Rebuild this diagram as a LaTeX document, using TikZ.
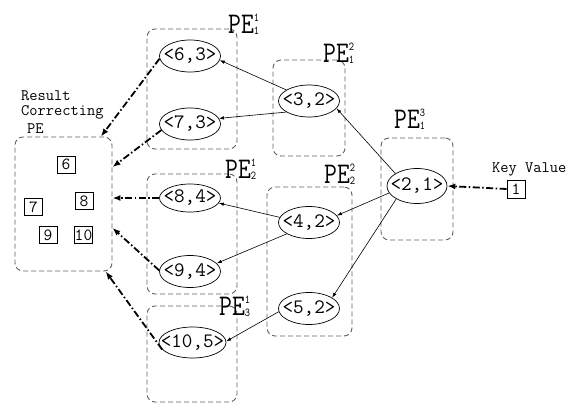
\documentclass[tikz,border=0pt]{standalone}
\usepackage{fontspec}
\usepackage{tikz}
\usetikzlibrary{arrows.meta,positioning,shapes.geometric}

\newcommand{\pair}[1]{\makebox[0pt]{<#1>}}
\newcommand{\pelbl}[2]{\scalebox{1}[1.2]{\fontsize{25}{25}\selectfont
  PE\rlap{\raisebox{9.5pt}{\fontsize{10}{10}\selectfont #2}}\raisebox{-1pt}{\fontsize{10}{10}\selectfont #1}}}

\begin{document}
\begin{tikzpicture}[
      x=1pt, y=-1pt,
      font=\ttfamily,
      % Reusable styles
      pebox/.style={
        draw=black!62,
        dash pattern=on 5pt off 3pt,
        line width=0.9pt,
        rounded corners=8pt,
        inner sep=0pt
      },
      kv/.style={
        ellipse,
        draw,
        line width=0.7pt,
        inner sep=0pt,
        minimum width=61pt,
        minimum height=32pt,
        font=\ttfamily\fontsize{20.5}{22}\selectfont
      },
      sq/.style={
        draw,
        line width=0.6pt,
        inner sep=0pt,
        minimum width=18pt,
        minimum height=17pt,
        font=\ttfamily\fontsize{17}{17}\selectfont
      },
      lbl/.style={inner sep=0pt, align=left, font=\ttfamily\fontsize{16}{15.5}\selectfont},
      pelabel/.style={inner sep=0pt, anchor=base west},
      link/.style={-{Latex[length=5pt,width=3.5pt]}, line width=0.6pt},
      collect/.style={-{Latex[length=8pt,width=6pt]}, line width=1.8pt,
        dash pattern=on 7pt off 2.5pt on 1.5pt off 2.5pt}
    ]
    \useasboundingbox (0,0) rectangle (579,410);

    % PE groups
    \node[pebox, minimum width=97pt, minimum height=134pt] (res) at (63.5,204) {};
    \node[pebox, minimum width=90pt, minimum height=120pt] (pe11) at (192,89) {};
    \node[pebox, minimum width=72pt, minimum height=96pt] (pe12) at (309,108) {};
    \node[pebox, minimum width=90pt, minimum height=120pt] (pe21) at (192,234) {};
    \node[pebox, minimum width=85pt, minimum height=149pt] (pe22) at (309.5,261.5) {};
    \node[pebox, minimum width=90pt, minimum height=96pt] (pe31) at (192,354) {};
    \node[pebox, minimum width=72pt, minimum height=102pt] (pe13) at (417,189) {};

    \node[pelabel] (lbl11) at (228,33) {\pelbl{1}{1}};
    \node[pelabel] (lbl12) at (323,62) {\pelbl{1}{2}};
    \node[pelabel] (lbl21) at (225,178) {\pelbl{2}{1}};
    \node[pelabel] (lbl22) at (324,183) {\pelbl{2}{2}};
    \node[pelabel] (lbl13) at (394,128) {\pelbl{1}{3}};
    \node[pelabel] (lbl31) at (219,315) {\pelbl{3}{1}};

    % Key-value pairs
    \node[kv] (n63) at (190,56) {\pair{6,3}};
    \node[kv] (n73) at (190,124) {\pair{7,3}};
    \node[kv] (n32) at (309,101) {\pair{3,2}};
    \node[kv, minimum height=28pt] (n84) at (190,198) {\pair{8,4}};
    \node[kv] (n94) at (190,271.5) {\pair{9,4}};
    \node[kv] (n42) at (309,222.5) {\pair{4,2}};
    \node[kv] (n52) at (309,308.5) {\pair{5,2}};
    \node[kv, minimum width=67pt, minimum height=31pt] (n105) at (192.5,342.5) {\pair{10,5}};
    \node[kv, minimum width=60pt, minimum height=35pt] (n21) at (417,186) {\pair{2,1}};

    % Result correcting PE
    \node[lbl, anchor=base west] (reslbl) at (21,133) {Result\\Correcting\\[2pt]\hspace*{6pt}PE};
    \node[sq] (v6) at (66,164.5) {6};
    \node[sq] (v7) at (33.5,207) {7};
    \node[sq] (v8) at (84,201) {8};
    \node[sq] (v9) at (48,235) {9};
    \node[sq] (v10) at (83.5,235) {10};

    % Key value
    \node[lbl, anchor=base west] (keylbl) at (492,172) {Key Value};
    \node[sq, minimum height=18pt] (key1) at (516,189) {1};

    % Edges
    \draw[collect] (key1.west) -- (n21.east);
    \draw[link] (n21.150) -- (n32.-15);
    \draw[link] (n21.194) -- (n42.14);
    \draw[link] (n21.212) -- (n52.25);
    \draw[link] (n32.154) -- (n63.-8);
    \draw[link] (n32.206) -- (n73.11);
    \draw[link] (n42.170) -- (n84.-10);
    \draw[link] (n42.207) -- (n94.17);
    \draw[link] (n52.186) -- (n105.2);
    \draw[collect] (n63.185) -- (res.61);
    \draw[collect] (n73.192) -- (res.37.6);
    \draw[collect] (n84.west) -- (res.east |- n84.west);
    \draw[collect] (n94.178) -- (res.-26);
    \draw[collect] (n105.193) -- (res.-58);
  \end{tikzpicture}
\end{document}
